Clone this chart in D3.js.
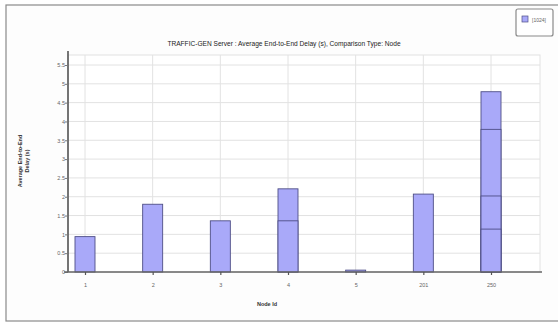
<!DOCTYPE html>
<html>
<head>
<meta charset="utf-8">
<script src="https://cdn.jsdelivr.net/npm/d3@7"></script>
<style>
  body { margin: 0; background: #fff; }
  svg { display: block; font-family: 'Liberation Sans', Arial, sans-serif; }
</style>
</head>
<body>
<svg id="chart" width="558" height="323"></svg>
<script>
// node ids on the x axis
const nodes = ['1', '2', '3', '4', '5', '201', '250'];
// overlapping samples per node (drawn from 0, tallest first)
const delays = [
  [0.94],
  [1.80],
  [1.36],
  [2.21, 1.36],
  [0.05],
  [2.07],
  [4.79, 3.79, 2.02, 1.14]
];
const yTicks = [0, 0.5, 1, 1.5, 2, 2.5, 3, 3.5, 4, 4.5, 5, 5.5];
const legendLabel = '[1024]';

const svg = d3.select('#chart');

// outer frame
svg.append('rect')
  .attr('x', 6).attr('y', 5)
  .attr('width', 560).attr('height', 316)
  .attr('fill', '#fdfdfd')
  .attr('stroke', '#8a8a8a').attr('stroke-width', 1.2);

const plot = {left: 68, right: 540, top: 55, bottom: 272};

const y = d3.scaleLinear()
  .domain([0, 5.5])
  .range([plot.bottom, plot.top + 10]);

const x = d3.scalePoint()
  .domain(nodes)
  .range([plot.left + 17, plot.right - 49]);

// grid
const g = svg.append('g');
g.append('rect')
  .attr('x', plot.left).attr('y', plot.top)
  .attr('width', plot.right - plot.left).attr('height', plot.bottom - plot.top)
  .attr('fill', '#fff')
  .attr('stroke', '#e2e2e2');

g.selectAll('.hgrid')
  .data(yTicks.slice(1))
  .enter().append('line')
  .attr('x1', plot.left).attr('x2', plot.right)
  .attr('y1', d => y(d)).attr('y2', d => y(d))
  .attr('stroke', '#e2e2e2');

g.selectAll('.vgrid')
  .data(nodes)
  .enter().append('line')
  .attr('x1', d => x(d)).attr('x2', d => x(d))
  .attr('y1', plot.top).attr('y2', plot.bottom)
  .attr('stroke', '#e2e2e2');

// bars
const barW = 20;
nodes.forEach((n, i) => {
  const vals = delays[i].slice().sort((a, b) => b - a);
  g.selectAll('.bar' + i)
    .data(vals)
    .enter().append('rect')
    .attr('x', x(n) - barW / 2)
    .attr('y', d => y(d))
    .attr('width', barW)
    .attr('height', d => y(0) - y(d))
    .attr('fill', '#a9a9f9')
    .attr('stroke', '#4e4e86')
    .attr('stroke-width', 0.9);
});

// axes
const yAxis = svg.append('g')
  .attr('transform', `translate(${plot.left},0)`)
  .call(d3.axisLeft(y).tickValues(yTicks).tickSize(3).tickFormat(d3.format('')));
yAxis.select('.domain').attr('stroke', '#555').attr('stroke-width', 1.6)
  .attr('d', `M0,${plot.top - 4}V${plot.bottom}`);
yAxis.selectAll('.tick line').attr('stroke', '#777');
yAxis.selectAll('.tick text').attr('fill', '#666').attr('font-size', 5.5).attr('x', -3);

const xAxis = svg.append('g')
  .attr('transform', `translate(0,${plot.bottom})`)
  .call(d3.axisBottom(x).tickSize(3));
xAxis.select('.domain').attr('stroke', '#666').attr('stroke-width', 1.4)
  .attr('d', `M${plot.left - 4},0H${plot.right + 2}`);
xAxis.selectAll('.tick line').attr('stroke', '#555').attr('stroke-width', 1.2);
xAxis.selectAll('.tick text').attr('fill', '#666').attr('font-size', 5.5).attr('y', 11);

// title and labels
svg.append('text')
  .attr('x', 284).attr('y', 46)
  .attr('text-anchor', 'middle')
  .attr('font-size', 6.6)
  .attr('fill', '#222')
  .text('TRAFFIC-GEN Server :  Average End-to-End Delay (s), Comparison Type: Node');

svg.append('text')
  .attr('x', 267).attr('y', 306)
  .attr('text-anchor', 'middle')
  .attr('font-size', 5.5).attr('font-weight', 'bold')
  .attr('fill', '#333')
  .text('Node Id');

const yl = svg.append('text')
  .attr('transform', 'translate(22,161) rotate(-90)')
  .attr('text-anchor', 'middle')
  .attr('font-size', 5.5).attr('font-weight', 'bold')
  .attr('fill', '#333');
yl.append('tspan').attr('x', 0).attr('dy', 0).text('Average End-to-End');
yl.append('tspan').attr('x', 0).attr('dy', 7).text('Delay (s)');

// legend
const lg = svg.append('g');
lg.append('rect')
  .attr('x', 516).attr('y', 9)
  .attr('width', 37).attr('height', 27)
  .attr('rx', 2)
  .attr('fill', '#fff')
  .attr('stroke', '#8a8a8a').attr('stroke-width', 1.2);
lg.append('rect')
  .attr('x', 522).attr('y', 16)
  .attr('width', 6).attr('height', 6)
  .attr('fill', '#a9a9f9')
  .attr('stroke', '#4e4e86').attr('stroke-width', 0.7);
lg.append('text')
  .attr('x', 532).attr('y', 21.5)
  .attr('font-size', 5)
  .attr('fill', '#666')
  .text(legendLabel);
</script>
</body>
</html>
